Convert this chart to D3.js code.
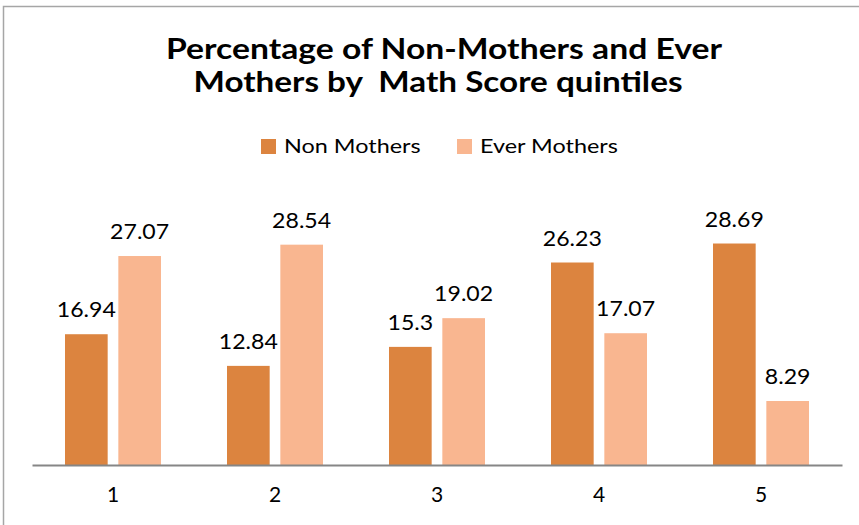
<!DOCTYPE html>
<html>
<head>
<meta charset="utf-8">
<script src="https://cdn.jsdelivr.net/npm/d3@7"></script>
<style>
  body { margin: 0; background: #fff; }
  text { font-family: Lato, "Open Sans", sans-serif; fill: #000; }
</style>
</head>
<body>
<svg id="chart" width="859" height="525"></svg>
<script>
const quintiles = ["1", "2", "3", "4", "5"];
const seriesNames = ["Non Mothers", "Ever Mothers"];
const nonMothers = [16.94, 12.84, 15.3, 26.23, 28.69];
const everMothers = [27.07, 28.54, 19.02, 17.07, 8.29];
const colors = ["#dc843f", "#f9b690"];
const titleLines = ["Percentage of Non-Mothers and Ever", "Mothers by  Math Score quintiles"];

const svg = d3.select("#chart");

// widen text a bit, the original font runs wider than Lato
function stretch(sel, k) {
  sel.each(function() {
    const w = this.getComputedTextLength();
    d3.select(this).attr("textLength", w * k).attr("lengthAdjust", "spacingAndGlyphs");
  });
}

// chart frame (runs off the right and bottom edges)
svg.append("rect")
    .attr("x", 3.5).attr("y", 6.5)
    .attr("width", 900).attr("height", 600)
    .attr("fill", "none")
    .attr("stroke", "#a6a6a6")
    .attr("stroke-width", 1.5);

const titleX = [444, 438], titleY = [59, 92], titleW = [556, 489];
svg.append("g").selectAll("text")
    .data(titleLines)
    .join("text")
    .attr("x", (d, i) => titleX[i])
    .attr("y", (d, i) => titleY[i])
    .attr("text-anchor", "middle")
    .attr("xml:space", "preserve")
    .style("font-size", "28px")
    .style("font-weight", "bold")
    .text(d => d)
    .attr("textLength", (d, i) => titleW[i])
    .attr("lengthAdjust", "spacingAndGlyphs");

// legend
const legendX = [261, 457];
const legend = svg.append("g").selectAll("g")
    .data(seriesNames)
    .join("g")
    .attr("transform", (d, i) => `translate(${legendX[i]},139)`);
legend.append("rect")
    .attr("width", 15).attr("height", 15)
    .attr("fill", (d, i) => colors[i]);
legend.append("text")
    .attr("x", 23).attr("y", 14)
    .style("font-size", "20px")
    .text(d => d)
    .call(stretch, 1.17);

const x = d3.scaleBand()
    .domain(quintiles)
    .range([32, 842]);

const x1 = d3.scaleBand()
    .domain(seriesNames)
    .range([33, 129])
    .paddingInner(0.2);

const y = d3.scaleLinear()
    .domain([0, 35])
    .range([465, 465 - 35 * 7.72]);

const rows = quintiles.map((q, i) => ({
  q, vals: [nonMothers[i], everMothers[i]]
}));

const groups = svg.append("g").selectAll("g")
    .data(rows)
    .join("g")
    .attr("transform", d => `translate(${x(d.q)},0)`);

groups.selectAll("rect")
    .data(d => d.vals.map((v, i) => ({ name: seriesNames[i], v, i })))
    .join("rect")
    .attr("x", d => x1(d.name))
    .attr("y", d => y(d.v))
    .attr("width", x1.bandwidth())
    .attr("height", d => y(0) - y(d.v))
    .attr("fill", d => colors[d.i]);

groups.selectAll("text.val")
    .data(d => d.vals.map((v, i) => ({ name: seriesNames[i], v })))
    .join("text")
    .attr("class", "val")
    .attr("x", d => x1(d.name) + x1.bandwidth() / 2)
    .attr("y", d => y(d.v) - 17)
    .attr("text-anchor", "middle")
    .style("font-size", "21px")
    .text(d => d.v)
    .call(stretch, 1.1);

// x axis
const xAxis = svg.append("g")
    .attr("transform", "translate(0,465)")
    .call(d3.axisBottom(x).tickSize(0).tickPadding(22));
xAxis.select(".domain").attr("stroke", "#868686").attr("stroke-width", 2);
xAxis.selectAll("text")
    .style("font-family", "Lato, 'Open Sans', sans-serif")
    .style("font-size", "21px")
    .attr("fill", "#000");
</script>
</body>
</html>
